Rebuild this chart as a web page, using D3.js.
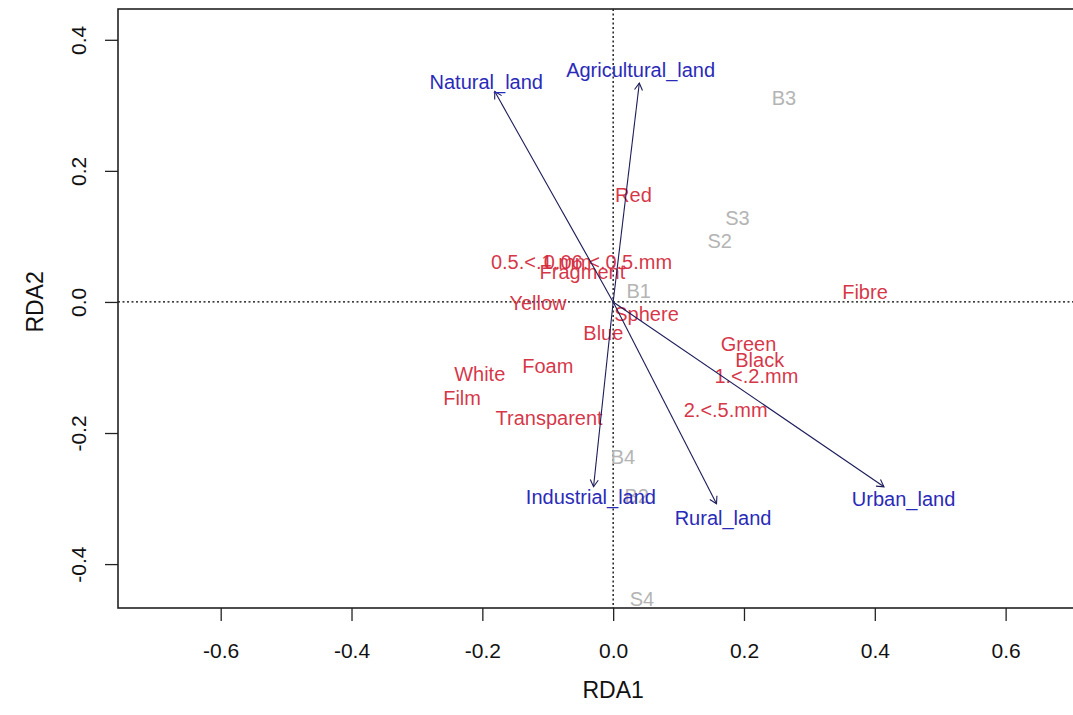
<!DOCTYPE html>
<html>
<head>
<meta charset="utf-8">
<script src="https://cdn.jsdelivr.net/npm/d3@7"></script>
<style>
  html, body { margin: 0; padding: 0; background: #fff; }
  svg { display: block; }
  text { font-family: "Liberation Sans", Arial, sans-serif; }
</style>
</head>
<body>
<svg id="chart" width="1073" height="715"></svg>
<script>
// ---- data ----
const xTicks = [-0.6, -0.4, -0.2, 0.0, 0.2, 0.4, 0.6];
const yTicks = [-0.4, -0.2, 0.0, 0.2, 0.4];
const xTickLabels = ["-0.6", "-0.4", "-0.2", "0.0", "0.2", "0.4", "0.6"];
const yTickLabels = ["-0.4", "-0.2", "0.0", "0.2", "0.4"];

// environmental arrows (tips) and label positions
const envNames = ["Natural_land", "Agricultural_land", "Industrial_land", "Rural_land", "Urban_land"];
const envRDA1  = [-0.181, 0.040, -0.030, 0.158, 0.414];
const envRDA2  = [0.321, 0.334, -0.282, -0.308, -0.282];
const envLabRDA1 = [-0.194, 0.042, -0.034, 0.168, 0.444];
const envLabRDA2 = [0.336, 0.354, -0.298, -0.330, -0.301];

// species (red)
const spNames = ["Red", "0.5.<.1.mm", "0.06.<.0.5.mm", "Fragment", "Yellow", "Sphere", "Blue", "Foam", "White", "Film", "Transparent", "Fibre", "Green", "Black", "1.<.2.mm", "2.<.5.mm"];
const spRDA1  = [0.031, -0.110, -0.008, -0.047, -0.115, 0.051, -0.015, -0.100, -0.204, -0.231, -0.098, 0.385, 0.207, 0.224, 0.219, 0.172];
const spRDA2  = [0.163, 0.061, 0.061, 0.046, -0.002, -0.018, -0.047, -0.098, -0.110, -0.147, -0.177, 0.015, -0.064, -0.089, -0.113, -0.165];

// sites (grey)
const siteNames = ["B3", "S3", "S2", "B1", "B4", "B2", "S4"];
const siteRDA1  = [0.261, 0.190, 0.163, 0.039, 0.015, 0.036, 0.044];
const siteRDA2  = [0.311, 0.128, 0.093, 0.017, -0.237, -0.296, -0.453];

// ---- layout ----
const svg = d3.select("#chart");
const plotL = 118, plotT = 9, plotB = 608, plotR = 1073;
const x = d3.scaleLinear().domain([-0.757, 0.703]).range([plotL, plotR]);
const y = d3.scaleLinear().domain([-0.467, 0.447]).range([plotB, plotT]);

const fontSize = 20;

// dotted zero lines
svg.append("line").attr("x1", plotL).attr("x2", plotR + 10)
  .attr("y1", y(0)).attr("y2", y(0))
  .attr("stroke", "#000").attr("stroke-width", 1.3).attr("stroke-dasharray", "2,2.5");
svg.append("line").attr("x1", x(0)).attr("x2", x(0))
  .attr("y1", plotT).attr("y2", plotB)
  .attr("stroke", "#000").attr("stroke-width", 1.3).attr("stroke-dasharray", "2,2.5");

// sites
svg.append("g").selectAll("text").data(siteNames).join("text")
  .attr("x", (d, i) => x(siteRDA1[i]))
  .attr("y", (d, i) => y(siteRDA2[i]))
  .attr("dy", "0.35em")
  .attr("text-anchor", "middle")
  .attr("font-size", fontSize)
  .attr("fill", "#b4b4b4")
  .text(d => d);

// species
svg.append("g").selectAll("text").data(spNames).join("text")
  .attr("x", (d, i) => x(spRDA1[i]))
  .attr("y", (d, i) => y(spRDA2[i]))
  .attr("dy", "0.35em")
  .attr("text-anchor", "middle")
  .attr("font-size", fontSize)
  .attr("fill", "#d42a3c")
  .attr("fill-opacity", 0.95)
  .text(d => d);

// arrows
const arrowG = svg.append("g").attr("stroke", "#1c1c5a").attr("stroke-width", 1.1).attr("fill", "none");
envNames.forEach((n, i) => {
  const x0 = x(0), y0 = y(0), x1 = x(envRDA1[i]), y1 = y(envRDA2[i]);
  arrowG.append("line").attr("x1", x0).attr("y1", y0).attr("x2", x1).attr("y2", y1);
  const ang = Math.atan2(y1 - y0, x1 - x0);
  const L = 8, a = Math.PI / 6;
  const p1 = [x1 - L * Math.cos(ang - a), y1 - L * Math.sin(ang - a)];
  const p2 = [x1 - L * Math.cos(ang + a), y1 - L * Math.sin(ang + a)];
  arrowG.append("path").attr("d", `M${p1[0]},${p1[1]}L${x1},${y1}L${p2[0]},${p2[1]}`);
});

// env labels
svg.append("g").selectAll("text").data(envNames).join("text")
  .attr("x", (d, i) => x(envLabRDA1[i]))
  .attr("y", (d, i) => y(envLabRDA2[i]))
  .attr("dy", "0.35em")
  .attr("text-anchor", "middle")
  .attr("font-size", fontSize)
  .attr("fill", "#2a2ab8")
  .text(d => d);

// box
svg.append("rect").attr("x", plotL).attr("y", plotT)
  .attr("width", plotR - plotL + 20).attr("height", plotB - plotT)
  .attr("fill", "none").attr("stroke", "#222").attr("stroke-width", 1.6);

// axes
const xAxis = d3.axisBottom(x).tickValues(xTicks).tickFormat((d, i) => xTickLabels[i]).tickSize(13).tickPadding(22);
const gx = svg.append("g").attr("transform", `translate(0,${plotB})`).call(xAxis);
gx.select(".domain").remove();
gx.selectAll("line").attr("stroke", "#222").attr("stroke-width", 1.3);
gx.selectAll("text").attr("font-size", 21).attr("fill", "#111").attr("font-family", "Liberation Sans, Arial, sans-serif");

const yAxis = d3.axisLeft(y).tickValues(yTicks).tickFormat((d, i) => yTickLabels[i]).tickSize(13).tickPadding(0);
const gy = svg.append("g").attr("transform", `translate(${plotL},0)`).call(yAxis);
gy.select(".domain").remove();
gy.selectAll("line").attr("stroke", "#222").attr("stroke-width", 1.3);
gy.selectAll("text")
  .attr("font-size", 21).attr("fill", "#111").attr("font-family", "Liberation Sans, Arial, sans-serif")
  .attr("x", 0).attr("dy", null)
  .attr("text-anchor", "middle")
  .attr("transform", "translate(-40,0) rotate(-90)")
  .attr("y", 0).attr("dominant-baseline", "central");

// axis titles
svg.append("text").attr("x", x(0)).attr("y", 690).attr("dy", "0.35em")
  .attr("text-anchor", "middle").attr("font-size", 23).attr("fill", "#111").text("RDA1");
svg.append("text").attr("transform", `translate(35,${y(0)}) rotate(-90)`)
  .attr("dy", "0.35em").attr("text-anchor", "middle").attr("font-size", 23).attr("fill", "#111").text("RDA2");
</script>
</body>
</html>
